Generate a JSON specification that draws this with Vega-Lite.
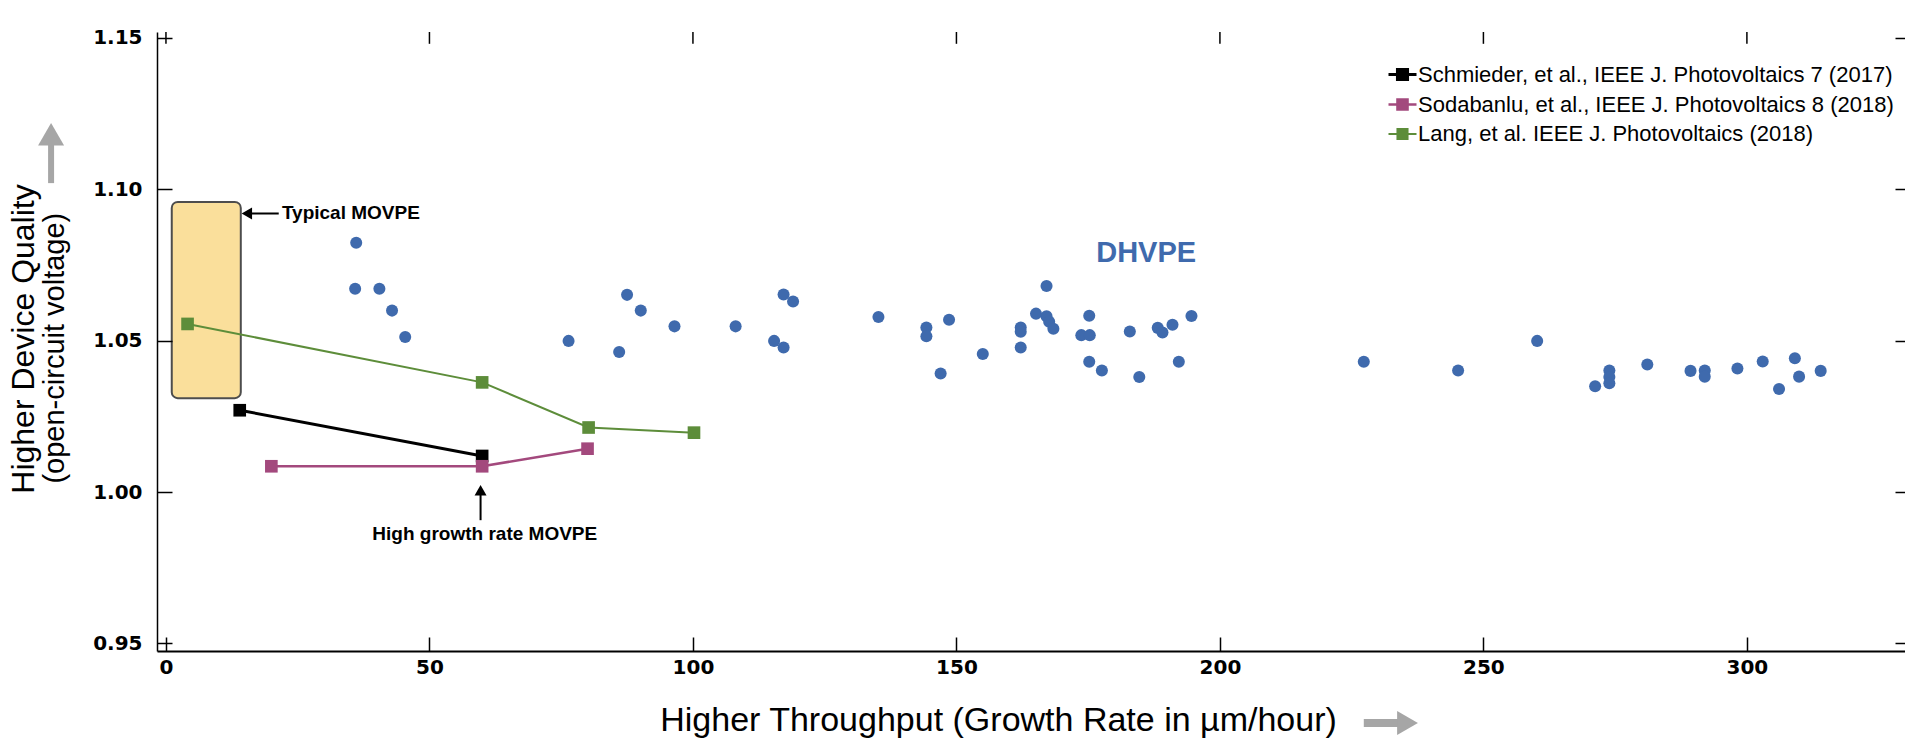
{
  "$schema": "https://vega.github.io/schema/vega-lite/v6.json",
  "width": 1748,
  "height": 619,
  "autosize": {"type": "none"},
  "padding": {"left": 157, "top": 32, "right": 0, "bottom": 89},
  "background": "white",
  "config": {"font": "Liberation Sans", "view": {"stroke": null}},
  "datasets": {
    "movpe": [
      {"series": "Schmieder, et al., IEEE J. Photovoltaics 7 (2017)", "rate": 14, "voc": 1.027},
      {"series": "Schmieder, et al., IEEE J. Photovoltaics 7 (2017)", "rate": 60, "voc": 1.0119},
      {"series": "Sodabanlu, et al., IEEE J. Photovoltaics 8 (2018)", "rate": 20, "voc": 1.0085},
      {"series": "Sodabanlu, et al., IEEE J. Photovoltaics 8 (2018)", "rate": 60, "voc": 1.0085},
      {"series": "Sodabanlu, et al., IEEE J. Photovoltaics 8 (2018)", "rate": 80, "voc": 1.0143},
      {"series": "Lang, et al. IEEE J. Photovoltaics (2018)", "rate": 4.1, "voc": 1.0555},
      {"series": "Lang, et al. IEEE J. Photovoltaics (2018)", "rate": 60, "voc": 1.0362},
      {"series": "Lang, et al. IEEE J. Photovoltaics (2018)", "rate": 80.2, "voc": 1.0213},
      {"series": "Lang, et al. IEEE J. Photovoltaics (2018)", "rate": 100.2, "voc": 1.0196}
    ],
    "dhvpe": [
      {"rate": 36.1, "voc": 1.0823}, {"rate": 35.9, "voc": 1.0671}, {"rate": 40.5, "voc": 1.0671},
      {"rate": 42.9, "voc": 1.0599}, {"rate": 45.4, "voc": 1.0512}, {"rate": 76.4, "voc": 1.0499},
      {"rate": 86.0, "voc": 1.0462}, {"rate": 87.5, "voc": 1.0651}, {"rate": 90.1, "voc": 1.0599},
      {"rate": 96.5, "voc": 1.0547}, {"rate": 108.1, "voc": 1.0547}, {"rate": 117.2, "voc": 1.0652},
      {"rate": 119.0, "voc": 1.0629}, {"rate": 115.4, "voc": 1.0499}, {"rate": 117.2, "voc": 1.0477},
      {"rate": 135.2, "voc": 1.0578}, {"rate": 144.3, "voc": 1.0543}, {"rate": 144.3, "voc": 1.0514},
      {"rate": 148.6, "voc": 1.0569}, {"rate": 147.0, "voc": 1.0391}, {"rate": 155.0, "voc": 1.0456},
      {"rate": 162.2, "voc": 1.0543}, {"rate": 162.2, "voc": 1.0529}, {"rate": 162.2, "voc": 1.0477},
      {"rate": 165.1, "voc": 1.0589}, {"rate": 167.1, "voc": 1.068}, {"rate": 167.1, "voc": 1.058},
      {"rate": 167.6, "voc": 1.0562}, {"rate": 168.4, "voc": 1.0539}, {"rate": 173.7, "voc": 1.0518},
      {"rate": 175.3, "voc": 1.0518}, {"rate": 175.2, "voc": 1.0582}, {"rate": 175.2, "voc": 1.043},
      {"rate": 177.6, "voc": 1.0401}, {"rate": 182.9, "voc": 1.053}, {"rate": 184.7, "voc": 1.038},
      {"rate": 188.2, "voc": 1.0542}, {"rate": 189.1, "voc": 1.0527}, {"rate": 191.0, "voc": 1.0552},
      {"rate": 194.6, "voc": 1.0581}, {"rate": 192.2, "voc": 1.043}, {"rate": 227.3, "voc": 1.043},
      {"rate": 245.2, "voc": 1.0401}, {"rate": 260.2, "voc": 1.0499}, {"rate": 271.2, "voc": 1.0349},
      {"rate": 273.9, "voc": 1.0401}, {"rate": 273.9, "voc": 1.038}, {"rate": 273.9, "voc": 1.0359},
      {"rate": 281.1, "voc": 1.0421}, {"rate": 289.3, "voc": 1.04}, {"rate": 292.0, "voc": 1.0401},
      {"rate": 292.0, "voc": 1.0381}, {"rate": 298.2, "voc": 1.0408}, {"rate": 303.0, "voc": 1.0431},
      {"rate": 306.1, "voc": 1.034}, {"rate": 309.1, "voc": 1.0442}, {"rate": 309.9, "voc": 1.0381},
      {"rate": 314.0, "voc": 1.04}
    ]
  },
  "resolve": {"axis": {"x": "independent", "y": "independent"}},
  "layer": [
    {
      "mark": {
        "type": "rect",
        "color": {
          "gradient": "linear", "x1": 0, "y1": 0, "x2": 0, "y2": 1,
          "stops": [
            {"offset": 0, "color": "#ffffff"},
            {"offset": 0.24, "color": "#ffffff"},
            {"offset": 1, "color": "#e7e5e7"}
          ]
        }
      },
      "encoding": {
        "x": {
          "datum": -1.7, "type": "quantitative",
          "scale": {"domain": [-1.7, 330], "nice": false, "zero": false},
          "axis": null
        },
        "x2": {"datum": 331.5},
        "y": {
          "datum": 1.1519, "type": "quantitative",
          "scale": {"domain": [0.9475, 1.1519], "nice": false, "zero": false},
          "axis": {
            "orient": "right", "values": [0.95, 1, 1.05, 1.1, 1.15], "labels": false, "title": null, "zindex": 1,
            "grid": false, "tickSize": -10, "tickWidth": 1.5, "tickColor": "#000", "domain": false
          }
        },
        "y2": {"datum": 0.9475}
      }
    },
    {
      "mark": {"type": "rule", "color": "#000", "strokeWidth": 3},
      "encoding": {
        "x": {"datum": -1.7, "type": "quantitative", "axis": null},
        "x2": {"datum": 331.5},
        "y": {"datum": 1.1517, "type": "quantitative", "axis": null}
      }
    },
    {
      "data": {"values": [{"tick": 0}, {"tick": 50}, {"tick": 100}, {"tick": 150}, {"tick": 200}, {"tick": 250}, {"tick": 300}]},
      "mark": {"type": "rule", "color": "#000", "strokeWidth": 1.5},
      "encoding": {
        "x": {"field": "tick", "type": "quantitative", "axis": null},
        "y": {"datum": 1.1519, "type": "quantitative", "axis": null},
        "y2": {"datum": 1.148}
      }
    },
    {
      "data": {"values": [{"label": "Typical MOVPE", "from": 1.1, "to": 14.2, "low": 1.031, "high": 1.0958}]},
      "mark": {"type": "rect", "fill": "#fadf9b", "stroke": "#4d4d4d", "strokeWidth": 2, "cornerRadius": 6},
      "encoding": {
        "x": {"field": "from", "type": "quantitative", "axis": null},
        "x2": {"field": "to"},
        "y": {"field": "high", "type": "quantitative", "axis": null},
        "y2": {"field": "low"}
      }
    },
    {
      "data": {"name": "movpe"},
      "mark": {"type": "line"},
      "encoding": {
        "x": {"field": "rate", "type": "quantitative", "axis": null},
        "y": {"field": "voc", "type": "quantitative", "axis": null},
        "color": {
          "field": "series", "type": "nominal",
          "scale": {
            "domain": ["Schmieder, et al., IEEE J. Photovoltaics 7 (2017)", "Sodabanlu, et al., IEEE J. Photovoltaics 8 (2018)", "Lang, et al. IEEE J. Photovoltaics (2018)"],
            "range": ["#000000", "#a3497d", "#5d8d3a"]
          },
          "legend": {
            "orient": "none", "legendX": 1230, "legendY": 27, "title": null, "padding": 0,
            "symbolType": "M-1,0L1,0M-0.36,-0.36L0.36,-0.36L0.36,0.36L-0.36,0.36Z",
            "symbolSize": 784, "symbolStrokeWidth": 2,
            "labelFontSize": 22, "labelColor": "#000", "labelLimit": 800, "labelOffset": 0,
            "rowPadding": 3,
            "encode": {"symbols": {"update": {"fill": {"scale": "color", "field": "value"}, "stroke": {"scale": "color", "field": "value"}}}}
          }
        },
        "strokeWidth": {
          "field": "series", "type": "nominal",
          "scale": {
            "domain": ["Schmieder, et al., IEEE J. Photovoltaics 7 (2017)", "Sodabanlu, et al., IEEE J. Photovoltaics 8 (2018)", "Lang, et al. IEEE J. Photovoltaics (2018)"],
            "range": [3, 2, 2.5]
          },
          "legend": null
        }
      }
    },
    {
      "data": {"name": "movpe"},
      "mark": {"type": "point", "shape": "square", "filled": true, "size": 160, "opacity": 1},
      "encoding": {
        "x": {"field": "rate", "type": "quantitative", "axis": null},
        "y": {"field": "voc", "type": "quantitative", "axis": null},
        "color": {"field": "series", "type": "nominal", "legend": null}
      }
    },
    {
      "data": {"name": "dhvpe"},
      "mark": {"type": "point", "shape": "circle", "filled": true, "size": 145, "opacity": 1, "color": "#3f6aad"},
      "encoding": {
        "x": {
          "field": "rate", "type": "quantitative",
          "scale": {"domain": [-1.7, 330], "nice": false, "zero": false},
          "axis": {
            "orient": "bottom", "values": [0, 50, 100, 150, 200, 250, 300], "format": "d", "zindex": 1,
            "labelFont": "DejaVu Sans", "labelFontWeight": "bold", "labelFontSize": 20, "labelColor": "#000", "labelPadding": 20, "labelOverlap": false, "labelFlush": false,
            "tickSize": -14, "tickWidth": 1.5, "tickColor": "#000", "domainColor": "#000", "domainWidth": 2, "grid": false,
            "title": "Higher Throughput (Growth Rate in µm/hour)", "titleFontSize": 34, "titleFontWeight": "normal",
            "titleColor": "#000", "titleX": 841, "titleY": 79, "titleBaseline": "alphabetic", "titleAlign": "center", "titleAnchor": null
          }
        },
        "y": {
          "field": "voc", "type": "quantitative",
          "scale": {"domain": [0.9475, 1.1519], "nice": false, "zero": false},
          "axis": {
            "orient": "left", "values": [0.95, 1, 1.05, 1.1, 1.15], "format": ".2f", "zindex": 1,
            "labelFont": "DejaVu Sans", "labelFontWeight": "bold", "labelFontSize": 20, "labelColor": "#000", "labelPadding": 30, "labelOverlap": false, "labelFlush": false,
            "tickSize": -15, "tickWidth": 1.5, "tickColor": "#000", "domainColor": "#000", "domainWidth": 1.5, "grid": false,
            "title": "Higher Device Quality", "titleFontSize": 32, "titleFontWeight": "normal", "titleColor": "#000",
            "titleAngle": 270, "titleX": -123.5, "titleY": 306.5, "titleBaseline": "alphabetic", "titleAlign": "center", "titleAnchor": null
          }
        }
      }
    },
    {
      "data": {"values": [{"label": "DHVPE", "rate": 186, "voc": 1.079}]},
      "mark": {"type": "text", "fontSize": 29, "fontWeight": "bold", "color": "#3f6aad", "align": "center", "baseline": "middle"},
      "encoding": {
        "x": {"field": "rate", "type": "quantitative", "axis": null},
        "y": {"field": "voc", "type": "quantitative", "axis": null},
        "text": {"field": "label"}
      }
    },
    {
      "data": {"values": [
        {"label": "Typical MOVPE", "rate": 22.0, "voc": 1.092, "align": "left"},
        {"label": "High growth rate MOVPE", "rate": 60.5, "voc": 0.9861, "align": "center"}
      ]},
      "mark": {"type": "text", "fontSize": 19, "fontWeight": "bold", "color": "#000", "baseline": "middle", "align": {"expr": "datum.align"}},
      "encoding": {
        "x": {"field": "rate", "type": "quantitative", "axis": null},
        "y": {"field": "voc", "type": "quantitative", "axis": null},
        "text": {"field": "label"}
      }
    },
    {
      "data": {"values": [
        {"note": "Typical MOVPE", "x1": 15.3, "x2": 21.4, "y1": 1.092, "y2": 1.092},
        {"note": "High growth rate MOVPE", "x1": 59.7, "x2": 59.7, "y1": 0.9995, "y2": 0.9907}
      ]},
      "mark": {"type": "rule", "color": "#000", "strokeWidth": 2},
      "encoding": {
        "x": {"field": "x1", "type": "quantitative", "axis": null},
        "x2": {"field": "x2"},
        "y": {"field": "y1", "type": "quantitative", "axis": null},
        "y2": {"field": "y2"}
      }
    },
    {
      "data": {"values": [
        {"note": "Typical MOVPE", "rate": 15.35, "voc": 1.092, "shape": "triangle-left"},
        {"note": "High growth rate MOVPE", "rate": 59.7, "voc": 1.0006, "shape": "triangle-up"}
      ]},
      "mark": {"type": "point", "filled": true, "size": 144, "color": "#000", "opacity": 1},
      "encoding": {
        "x": {"field": "rate", "type": "quantitative", "axis": null},
        "y": {"field": "voc", "type": "quantitative", "axis": null},
        "shape": {"field": "shape", "type": "nominal", "scale": null}
      }
    },
    {
      "data": {"values": [
        {"dir": "up", "x1": -21.8, "x2": -21.8, "y1": 1.1146, "y2": 1.102, "w": 6},
        {"dir": "right", "x1": 227.3, "x2": 234.2, "y1": 0.9237, "y2": 0.9237, "w": 8}
      ]},
      "mark": {"type": "rule", "color": "#a6a6a6"},
      "encoding": {
        "x": {"field": "x1", "type": "quantitative", "axis": null},
        "x2": {"field": "x2"},
        "y": {"field": "y1", "type": "quantitative", "axis": null},
        "y2": {"field": "y2"},
        "strokeWidth": {"field": "w", "type": "quantitative", "scale": null, "legend": null}
      }
    },
    {
      "data": {"values": [
        {"dir": "up", "rate": -21.8, "voc": 1.1181, "shape": "triangle-up", "s": 676},
        {"dir": "right", "rate": 235.6, "voc": 0.9237, "shape": "triangle-right", "s": 576}
      ]},
      "mark": {"type": "point", "filled": true, "color": "#a6a6a6", "opacity": 1},
      "encoding": {
        "x": {"field": "rate", "type": "quantitative", "axis": null},
        "y": {"field": "voc", "type": "quantitative", "axis": null},
        "shape": {"field": "shape", "type": "nominal", "scale": null},
        "size": {"field": "s", "type": "quantitative", "scale": null, "legend": null}
      }
    },
    {
      "data": {"values": [{"label": "(open-circuit voltage)", "rate": -19.4, "voc": 1.0475}]},
      "mark": {"type": "text", "fontSize": 29, "color": "#000", "angle": 270, "align": "center", "baseline": "alphabetic"},
      "encoding": {
        "x": {"field": "rate", "type": "quantitative", "axis": null},
        "y": {"field": "voc", "type": "quantitative", "axis": null},
        "text": {"field": "label"}
      }
    }
  ]
}
